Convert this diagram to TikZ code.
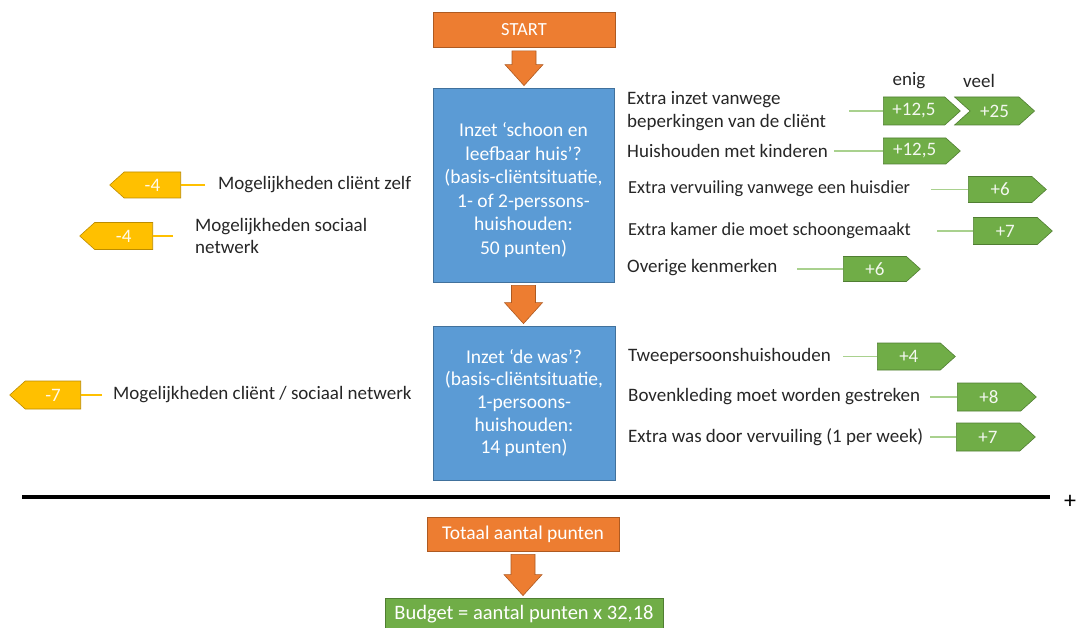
\documentclass[tikz,border=0pt]{standalone}
\usepackage{fontspec}
\setmainfont{Carlito}
\usetikzlibrary{shapes.symbols,calc}
\definecolor{orng}{HTML}{ED7D31}
\definecolor{orngd}{HTML}{AE5A21}
\definecolor{blu}{HTML}{5B9BD5}
\definecolor{blud}{HTML}{41719C}
\definecolor{grn}{HTML}{70AD47}
\definecolor{grnd}{HTML}{507E32}
\definecolor{grnl}{HTML}{A9D18E}
\definecolor{gld}{HTML}{FFC000}
\definecolor{gldd}{HTML}{BC8C00}
\definecolor{ink}{HTML}{262626}
\newcommand\blockarr[2]{%
  \coordinate (bt) at ($(#1.south)+(0,3)$);
  \coordinate (bh) at ($(bt |- #2.north)+(0,-2)$);
  \filldraw[blockarrow] ($(bt)+(-12,0)$) -- ($(bt)+(12,0)$) -- ($(bh)+(12,-21)$) -- ($(bh)+(19,-21)$) -- (bh) -- ($(bh)+(-19,-21)$) -- ($(bh)+(-12,-21)$) -- cycle;}
\begin{document}
\begin{tikzpicture}[x=1pt,y=-1pt,
  side/.style={font=\fontsize{19}{22.5}\selectfont, text=ink, anchor=west, inner sep=0pt, align=left},
  bluebox/.style={rectangle, fill=blu, draw=blud, line width=0.8pt, inner sep=0pt},
  bluetext/.style={text=white, font=\fontsize{19.5}{23.6}\selectfont, align=center, inner sep=0pt},
  orbox/.style={rectangle, fill=orng, draw=orngd, line width=0.8pt, text=white, inner sep=0pt},
  grbox/.style={rectangle, fill=grn, draw=grnd, line width=0.8pt, text=white, inner sep=0pt},
  plusbox/.style={signal, signal to=east, signal pointer angle=84, fill=grn, draw=grnd, line width=0.6pt, text=white!92!grn, font=\fontsize{19}{22}\selectfont, minimum width=78pt, minimum height=27pt, inner sep=0pt, anchor=west},
  minbox/.style={signal, signal to=west, signal pointer angle=84, fill=gld, draw=gldd, line width=0.6pt, text=white!92!gld, font=\fontsize{19}{22}\selectfont, minimum width=71pt, minimum height=27pt, inner sep=0pt, anchor=east},
  glink/.style={draw=grnl, line width=1.2pt},
  ylink/.style={draw=gld, line width=1.2pt},
  blockarrow/.style={fill=orng, draw=orngd, line width=0.6pt},
]
\useasboundingbox (0,0) rectangle (1076,628);

% main column
\node[orbox, font=\fontsize{18.5}{22}\selectfont, minimum width=182pt, minimum height=35pt] (start) at (524,30) {START};
\node[bluebox, minimum width=181pt, minimum height=194pt] (box1) at (523.5,185) {};
\node[bluetext] (box1t) at ($(box1.center)+(0,5)$)
  {Inzet ‘schoon en\\leefbaar huis’?\\(basis-cliëntsituatie,\\1- of 2-perssons-\\huishouden:\\50 punten)};
\node[bluebox, minimum width=182pt, minimum height=154pt] (box2) at (524,403) {};
\node[bluetext, font=\fontsize{19.5}{22.6}\selectfont] (box2t) at (box2.center)
  {Inzet ‘de was’?\\(basis-cliëntsituatie,\\1-persoons-\\huishouden:\\14 punten)};
\node[orbox, font=\fontsize{19.5}{22}\selectfont, minimum width=192pt, minimum height=34pt] (tot) at (523,534) {Totaal aantal punten};
\node[grbox, font=\fontsize{20.5}{22}\selectfont, minimum width=278pt, minimum height=32pt] (bud) at (524,614) {Budget = aantal punten x 32,18};

\blockarr{start}{box1}
\blockarr{box1}{box2}
\blockarr{tot}{bud}

% horizontal sum line
\coordinate (hl) at (22,497);
\coordinate (hr) at (1050,497);
\draw[line width=3.2pt] (hl) -- (hr);
\node[font=\fontsize{24}{24}\selectfont, inner sep=0pt] (plus) at (1070,502) {+};

% left side
\node[minbox, minimum height=26pt] (m1) at (181,185) {-4};
\coordinate (cm1) at (205,185);
\draw[ylink] (cm1) -- (m1.east);
\node[side] (l1) at (218,185) {Mogelijkheden cliënt zelf};

\node[minbox, minimum width=73pt] (m2) at (153,236) {-4};
\coordinate (cm2) at (173,236);
\draw[ylink] (cm2) -- (m2.east);
\node[side] (l2) at (195,236) {Mogelijkheden sociaal\\netwerk};

\node[minbox, minimum height=28pt] (m3) at (81,395) {-7};
\coordinate (cm3) at (102,395);
\draw[ylink] (cm3) -- (m3.east);
\node[side] (l3) at (113,395) {Mogelijkheden cliënt / sociaal netwerk};

% right side, box 1
\node[font=\fontsize{19}{22}\selectfont, text=ink, inner sep=0pt] (enig) at (909,81) {enig};
\node[font=\fontsize{19}{22}\selectfont, text=ink, inner sep=0pt] (veel) at (979,81) {veel};

\node[side] (r1) at (627,111) {Extra inzet vanwege\\beperkingen van de cliënt};
\node[plusbox, minimum width=77pt, minimum height=28pt] (p1) at (883,111) {+12,5};
\node[plusbox, signal from=west, minimum width=80pt, minimum height=28pt, anchor=east] (p1b) at (1035,111) {+25};
\coordinate (c1) at (849,111);
\draw[glink] (c1) -- (p1.west);

\node[side] (r2) at (627,151) {Huishouden met kinderen};
\node[plusbox, minimum width=77pt, minimum height=26pt] (p2) at (883,151) {+12,5};
\coordinate (c2) at (834,151);
\draw[glink] (c2) -- (p2.west);

\node[side, font=\fontsize{18.4}{21}\selectfont] (r3) at (628,189) {Extra vervuiling vanwege een huisdier};
\node[plusbox, minimum height=26pt] (p3) at (968,189.5) {+6};
\coordinate (c3) at (931,189.5);
\draw[glink] (c3) -- (p3.west);

\node[side, font=\fontsize{18.4}{21}\selectfont] (r4) at (628,231) {Extra kamer die moet schoongemaakt};
\node[plusbox, minimum width=79pt] (p4) at (973,231) {+7};
\coordinate (c4) at (937,231);
\draw[glink] (c4) -- (p4.west);

\node[side] (r5) at (627,268) {Overige kenmerken};
\node[plusbox, minimum width=77pt, minimum height=25pt] (p5) at (843,269) {+6};
\coordinate (c5) at (797,269);
\draw[glink] (c5) -- (p5.west);

% right side, box 2
\node[side] (r6) at (628,356) {Tweepersoonshuishouden};
\node[plusbox] (p6) at (877,356.5) {+4};
\coordinate (c6) at (843,356.5);
\draw[glink] (c6) -- (p6.west);

\node[side] (r7) at (628,397) {Bovenkleding moet worden gestreken};
\node[plusbox, minimum width=79pt, minimum height=28pt] (p7) at (957,397) {+8};
\coordinate (c7) at (930,397);
\draw[glink] (c7) -- (p7.west);

\node[side] (r8) at (628,437) {Extra was door vervuiling (1 per week)};
\node[plusbox, minimum width=79pt, minimum height=28pt] (p8) at (956,437) {+7};
\coordinate (c8) at (930,437);
\draw[glink] (c8) -- (p8.west);
\end{tikzpicture}
\end{document}
